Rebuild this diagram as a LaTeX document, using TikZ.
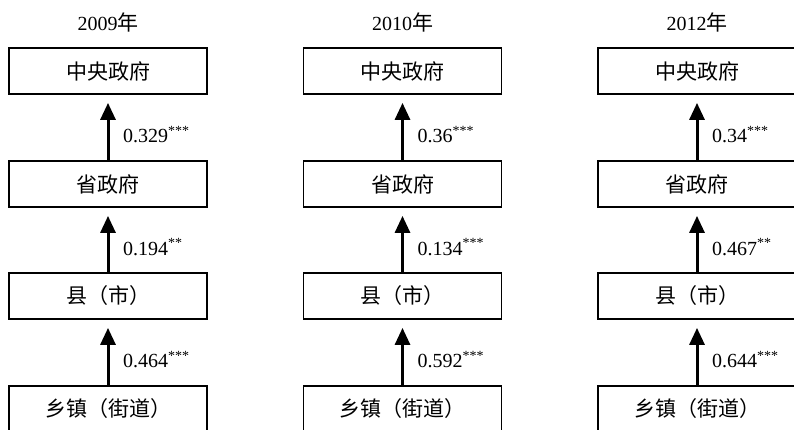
\documentclass[tikz,border=0pt]{standalone}
\usepackage{fontspec}
\setmainfont{Liberation Serif}
\newfontfamily\cjk{Noto Sans CJK SC}
\usetikzlibrary{arrows.meta,calc}
\newcommand\threestar{\textsuperscript{***}}
\newcommand\twostar{\textsuperscript{**}}
\begin{document}
\begin{tikzpicture}[x=1pt,y=-1pt,
  box/.style={draw, line width=1.8pt, minimum width=198pt, minimum height=46pt, inner sep=0pt,
              font=\fontsize{21}{21}\selectfont\cjk},
  link/.style={line width=3pt, -{Triangle[length=17pt,width=15pt]}},
  coef/.style={anchor=west, inner sep=0pt, font=\fontsize{20}{20}\selectfont},
  yr/.style={font=\fontsize{20}{20}\selectfont}]
\useasboundingbox (0,0) rectangle (794,430);
\clip (0,0) rectangle (794,430);
\foreach \c/\x/\yl/\p/\q/\r in {
  1/108/2009/0.329\threestar/0.194\twostar/0.464\threestar,
  2/402.5/2010/0.36\threestar/0.134\threestar/0.592\threestar,
  3/697/2012/0.34\threestar/0.467\twostar/0.644\threestar}{
  \node[yr] (y\c) at (\x,22) {\yl{\fontsize{21}{21}\selectfont\cjk 年}};
  \node[box] (a\c) at (\x,71) {中央政府};
  \node[box] (b\c) at (\x,184) {省政府};
  \node[box] (d\c) at (\x,296) {县（市）};
  \node[box] (e\c) at (\x,409) {乡镇（街道）};
  \draw[link] (b\c.north) -- ($(a\c.south)+(0,8)$) coordinate[midway] (m1\c);
  \draw[link] (d\c.north) -- ($(b\c.south)+(0,8)$) coordinate[midway] (m2\c);
  \draw[link] (e\c.north) -- ($(d\c.south)+(0,8)$) coordinate[midway] (m3\c);
  \node[coef] (p\c) at ($(m1\c)+(15,3)$) {\p};
  \node[coef] (q\c) at ($(m2\c)+(15,3)$) {\q};
  \node[coef] (r\c) at ($(m3\c)+(15,3)$) {\r};
}
\end{tikzpicture}
\end{document}
